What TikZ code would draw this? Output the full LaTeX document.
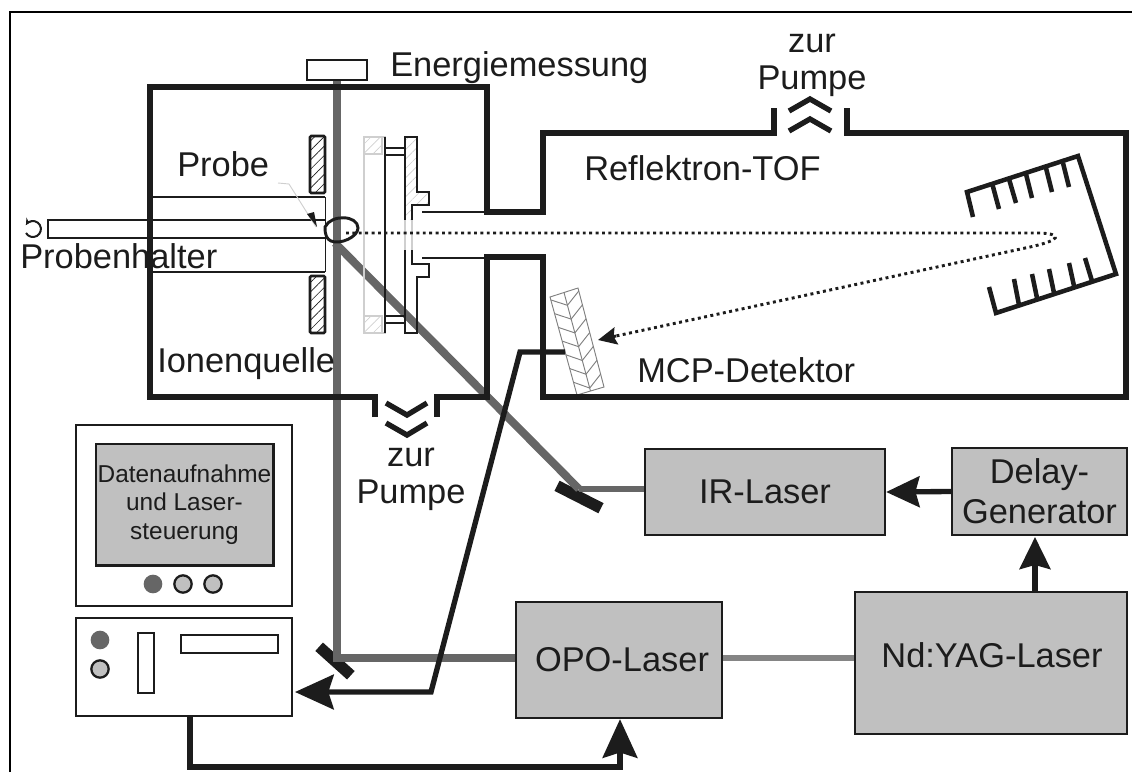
\documentclass[tikz,border=0pt]{standalone}
\usepackage{fontspec}
\setmainfont{Liberation Sans}
\usepackage{xcolor}
\usetikzlibrary{positioning,arrows.meta,calc,patterns.meta}
\definecolor{ink}{HTML}{1C1C1C}
\definecolor{boxgray}{HTML}{C0C0C0}
\definecolor{beamdark}{HTML}{666666}
\definecolor{beammid}{HTML}{858585}
\definecolor{ghost}{HTML}{CFCFCF}
\tikzset{
  wall/.style={draw=ink, line width=4pt, line join=miter},
  mirrorwall/.style={draw=ink, line width=3.4pt, line join=miter},
  part/.style={draw=ink, line width=2pt, line join=miter},
  thinpart/.style={draw=ink, line width=1.5pt},
  ghostpart/.style={draw=ghost, line width=1.2pt},
  lasernode/.style={draw=ink, fill=boxgray, line width=1.7pt, inner sep=0pt, align=center, font=\fontsize{25.8}{30}\selectfont, text=ink},
  plainbox/.style={draw=ink, fill=white, line width=1.7pt, inner sep=0pt},
  label/.style={inner sep=0pt, anchor=base west, font=\fontsize{25.8}{29}\selectfont, text=ink},
  boxlabel/.style={inner sep=0pt, font=\fontsize{25.8}{29}\selectfont, text=ink},
  pumplabel/.style={inner sep=0pt, align=center, font=\fontsize{25.8}{27.6}\selectfont, text=ink},
  mirror/.style={fill=ink, inner sep=0pt, minimum width=37pt, minimum height=8.5pt},
  beam/.style={line width=#1, draw=beamdark},
  wire/.style={draw=ink, line width=4pt, line join=miter},
  bigtip/.style={-{Stealth[length=29pt,width=26pt,inset=4pt]}},
  lamp/.style={circle, draw=ink, fill=boxgray, line width=1.7pt, minimum size=13pt, inner sep=0pt},
  darklamp/.style={circle, fill=beamdark, minimum size=14pt, inner sep=0pt},
  hatched/.style={pattern={Lines[angle=45,distance=5pt,line width=0.5pt]}, pattern color=#1}
}
\begin{document}
\begin{tikzpicture}[x=0.75pt,y=-0.75pt]
  \useasboundingbox (0,0) rectangle (1132,772);

  \node[lasernode, minimum width=180pt, minimum height=64.5pt] (ir) at (765,492) {IR-Laser};
  \node[lasernode, minimum width=131pt, minimum height=65pt] (delay) at (1039.5,491.5) {Delay-\\Generator};
  \node[lasernode, minimum width=154pt, minimum height=87pt] (opo) at (619,660) {};
  \node[boxlabel] (opolabel) at (622,660) {OPO-Laser};
  \node[lasernode, minimum width=204pt, minimum height=106pt] (yag) at (991,663) {};
  \node[boxlabel] (yaglabel) at (992,655) {Nd:YAG-Laser};

  \node[plainbox, minimum width=45pt, minimum height=15pt] (energy) at (337,70) {};
  \node[mirror, rotate=-27] (irmirror) at (579,497) {};
  \node[mirror, rotate=-42, minimum width=32pt] (opomirror) at (335,661) {};
  \coordinate (sample) at (335,243);
  \coordinate (opoturn) at (337,658);
  \coordinate (irturn) at (579,489);

  \draw[beam=6.2pt] (energy.south) -- (opoturn) -- (opoturn -| opo.west);
  \draw[beam=6pt] (sample) -- (irturn);
  \draw[beam=4.5pt] (irturn) -- (irturn -| ir.west);
  \draw[beam=4.5pt, draw=beammid] (opo.east |- opoturn) -- (yag.west |- opoturn);

  \coordinate (mcptopleft) at (550,297);
  \coordinate (mcptopright) at (578,288);
  \coordinate (mcpbotleft) at (577,395);
  \coordinate (mcpbotright) at (604,387);
  \coordinate (mcptip) at (598,340);
  \coordinate (mcpshaft) at (616,336);
  \coordinate (mcpwire) at (565,352);
  \draw[draw=gray, line width=0.7pt, fill=white] (mcptopleft) -- (mcptopright) -- (mcpbotright) -- (mcpbotleft) -- cycle;
  \draw[draw=gray, line width=0.7pt] ($(mcptopleft)!0.5!(mcptopright)$) -- ($(mcpbotleft)!0.5!(mcpbotright)$);
  \foreach \t in {0.03,0.17,0.31,0.45,0.59,0.73,0.87} {
    \draw[draw=gray, line width=0.7pt] ($(mcptopleft)!\t!(mcpbotleft)$) -- ($($(mcptopleft)!0.5!(mcptopright)$)!\t+0.1!($(mcpbotleft)!0.5!(mcpbotright)$)$) -- ($(mcptopright)!\t!(mcpbotright)$);
  }

  \draw[wall] (375,417) -- (375,397) -- (150,397) -- (150,87) -- (487,87) -- (487,212) -- (543,212) -- (543,133) -- (774,133) -- (774,108);
  \draw[wall] (847,108) -- (847,133) -- (1126,133) -- (1126,397) -- (543,397) -- (543,257) -- (487,257) -- (487,397) -- (437,397) -- (437,417);
  \foreach \y in {0,20} {
    \draw[wall] (386,403+\y) -- (407,415+\y) -- (427,403+\y);
    \draw[wall] (789,111+\y) -- (810,99+\y) -- (831,111+\y);
  }

  \draw[part] (150,197) -- (325,197);
  \draw[part] (150,272) -- (325,272);
  \draw[draw=ink, line width=0.6pt] (325,197) -- (325,272);
  \draw[part] (325,220) -- (48,220) -- (48,238) -- (325,238);
  \draw[thinpart, -{Stealth[length=5pt,width=5pt]}] (26,233) arc[start angle=150, end angle=-150, radius=8];
  \foreach \y in {136,276} {
    \draw[part, hatched=ink, rounded corners=1pt] (310,\y) rectangle (325,\y+57);
  }
  \draw[draw=ink, line width=2.2pt] (325,227) .. controls (331,214) and (358,215) .. (358,228) .. controls (358,237) and (340,245) .. (331,241) .. controls (327,239) and (325,236) .. cycle;

  \draw[ghostpart] (364,137) rectangle (385,333);
  \draw[ghostpart, hatched=ghost] (364,137) rectangle (382,154);
  \draw[ghostpart, hatched=ghost] (364,316) rectangle (382,333);
  \draw[part] (385,137) -- (385,333);
  \draw[thinpart] (385,148) -- (405,148) (385,155) -- (405,155) (385,316) -- (405,316) (385,323) -- (405,323);
  \fill[hatched=ghost] (405,137) -- (417,137) -- (417,192) -- (429,192) -- (429,205) -- (412,205) -- (412,220) -- (405,220) -- cycle;
  \draw[part] (405,220) -- (405,137) -- (417,137) -- (417,192) -- (429,192) -- (429,205) -- (412,205) -- (412,220);
  \draw[part] (405,250) -- (405,333) -- (417,333) -- (417,277) -- (429,277) -- (429,264) -- (412,264) -- (412,250);
  \draw[ghostpart] (405,220) -- (405,250) (412,220) -- (412,250);
  \draw[part] (422,212) -- (487,212);
  \draw[part] (422,258) -- (487,258);

  \draw[mirrorwall] (973,217) -- (967,192) -- (1078,156) -- (1116,274) -- (996,313) -- (989,287);
  \foreach \a/\b/\c/\d in {992/183/999/209, 1009/179/1016/203, 1026/174/1032/198, 1046/168/1052/192, 1063/163/1069/187,
                           1019/305/1014/279, 1037/298/1032/274, 1054/293/1049/269, 1074/286/1069/263, 1092/281/1085/258} {
    \draw[mirrorwall] (\a,\b) -- (\c,\d);
  }

  \draw[draw=ink, line width=2.2pt, dash pattern=on 2.2pt off 2.6pt]
    (346,233) -- (1040,233) .. controls (1062,234) and (1062,240) .. (1030,247) -- (mcpshaft);
  \draw[draw=ink, line width=2.2pt, -{Stealth[length=14pt,width=13pt,inset=2pt]}] (mcpshaft) -- (mcptip);

  \draw[wire, bigtip] (mcpwire) -- (520,352) -- (431,692) -- (295,692);
  \draw[wire, -{Stealth[length=25pt,width=23pt,inset=3pt]}] (delay.west) -- (ir.east);
  \draw[wire, -{Stealth[length=24pt,width=23pt,inset=3pt]}] (yag.north -| 1035,592) -- (1035,537);

  \node[plainbox, minimum width=162pt, minimum height=136pt] (monitor) at (184,515.5) {};
  \node[draw=ink, fill=boxgray, line width=2pt, inner sep=0pt, minimum width=133pt, minimum height=91pt, align=center, font=\fontsize{18.3}{21.4}\selectfont, text=ink] (screen) at (184.5,504.5) {Datenaufnahme\\und Laser-\\steuerung};
  \node[darklamp] (monlampa) at (153,584) {};
  \node[lamp] (monlampb) at (183,584) {};
  \node[lamp] (monlampc) at (213,584) {};
  \node[plainbox, minimum width=162pt, minimum height=73.5pt] (pc) at (184,667) {};
  \node[darklamp] (pclampa) at (100,640) {};
  \node[lamp] (pclampb) at (100,669) {};
  \node[plainbox, minimum width=12pt, minimum height=45pt] (slotv) at (146,663) {};
  \node[plainbox, minimum width=72.7pt, minimum height=13.5pt] (sloth) at (229.5,644) {};
  \draw[wire, bigtip] (pc.south -| 190,716) -- (190,767) -- (620,767) -- (620,718 |- opo.south);

  \node[label] (energylabel) at (390,76) {Energiemessung};
  \node[label] (probelabel) at (177,176) {Probe};
  \node[label] (halterlabel) at (20,268) {Probenhalter};
  \node[label] (quellelabel) at (157,372) {Ionenquelle};
  \node[label] (tof) at (584,180) {Reflektron-TOF};
  \node[label] (mcp) at (637,382) {MCP-Detektor};
  \node[pumplabel] (pumpa) at (812,65) {zur\\Pumpe};
  \node[pumplabel] (pumpb) at (411,479) {zur\\Pumpe};

  \coordinate (probetip) at (316,227);
  \draw[draw=ghost, line width=0.7pt] (278,183) -- (289,184) -- (probetip);
  \fill[ink] (307,214) -- (314,212) -- (317,227) -- cycle;

  \draw[draw=black, line width=1.6pt] (10,772) -- (10,12) -- (1132,12);
\end{tikzpicture}
\end{document}
